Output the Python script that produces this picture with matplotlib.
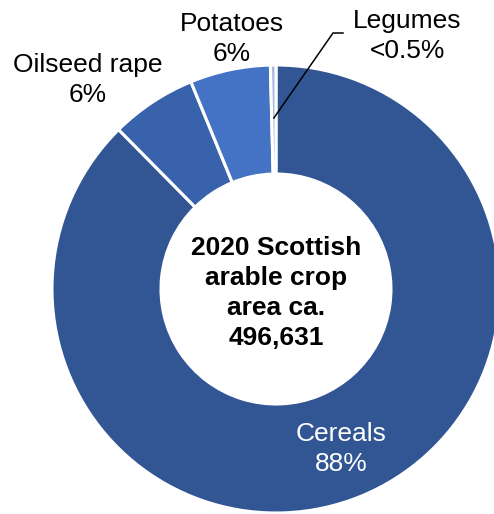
import numpy as np
import matplotlib.pyplot as plt

plt.rcParams['font.family'] = ['Liberation Sans', 'DejaVu Sans']

crops = ['Cereals', 'Oilseed rape', 'Potatoes', 'Legumes']
shares = [87.6, 6.2, 5.8, 0.4]
share_labels = ['88%', '6%', '6%', '<0.5%']
colours = ['#325694', '#3962ad', '#4472c4', '#a9b9df']
centre_text = '2020 Scottish\narable crop\narea ca.\n496,631'

W, H = 494, 514
fig = plt.figure(figsize=(W / 100, H / 100), dpi=100)
ax = fig.add_axes([0, 0, 1, 1])

cx, cy = 276, H - 289
R, r_in = 224, 115
wedges, _ = ax.pie(shares, colors=colours, startangle=90, counterclock=False,
                   radius=R, center=(cx, cy),
                   wedgeprops=dict(width=R - r_in, edgecolor='white', linewidth=2.2))
ax.set_xlim(0, W)
ax.set_ylim(0, H)
ax.set_aspect('equal')
ax.axis('off')

fs = 19
ax.text(cx, cy - 4, centre_text, ha='center', va='center', fontsize=fs,
        fontweight='bold', linespacing=1.32)

# labels placed around the ring
ls = 1.35
ax.text(341, H - 449, crops[0] + '\n' + share_labels[0], ha='center', va='center',
        fontsize=fs, color='white', linespacing=ls)
ax.text(88, H - 80, crops[1] + '\n' + share_labels[1], ha='center', va='center',
        fontsize=fs, linespacing=ls)
ax.text(232, H - 39, crops[2] + '\n' + share_labels[2], ha='center', va='center',
        fontsize=fs, linespacing=ls)
ax.text(407, H - 36, crops[3] + '\n' + share_labels[3], ha='center', va='center',
        fontsize=fs, linespacing=ls)

# leader line to the legumes slice
w = wedges[3]
ang = np.deg2rad((w.theta1 + w.theta2) / 2)
rm = 171
px, py = cx + rm * np.cos(ang), cy + rm * np.sin(ang)
ax.plot([px, 333, 343], [py, H - 33, H - 33], color='black', lw=1.1)

fig.savefig('out.png', dpi=100)
